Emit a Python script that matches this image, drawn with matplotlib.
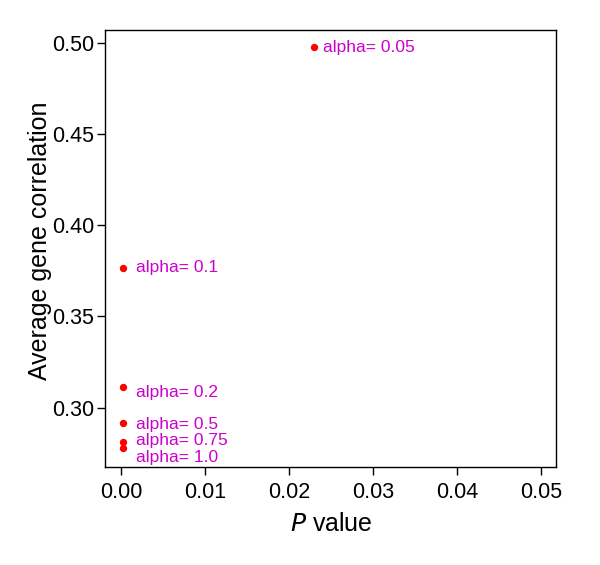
import matplotlib.pyplot as plt

p_values = [0.023, 0.0003, 0.0003, 0.0003, 0.0003, 0.0003]
avg_corr = [0.4975, 0.3765, 0.3110, 0.2913, 0.2810, 0.2780]
labels = ["alpha= 0.05", "alpha= 0.1", "alpha= 0.2",
          "alpha= 0.5", "alpha= 0.75", "alpha= 1.0"]

plt.rcParams['font.family'] = ['Liberation Sans', 'DejaVu Sans']

fig = plt.figure(figsize=(6, 5.65), dpi=100)
ax = fig.add_axes([0.175, 0.1735, 0.752, 0.7735])

ax.scatter(p_values, avg_corr, s=28, color="red", zorder=3, linewidths=0)

# label nudges (points) so the stacked labels don't collide
dx = [6.5, 9, 9, 9, 9, 9]
dy = [0, 0, -3.6, -0.7, 1.4, -7.2]
for x, y, lab, ox, oy in zip(p_values, avg_corr, labels, dx, dy):
    ax.annotate(lab, (x, y), xytext=(ox, oy), textcoords="offset points",
                color="#cc00cc", fontsize=12.5, va="center", ha="left")

ax.set_xlim(-0.0019, 0.0518)
ax.set_ylim(0.2674, 0.507)
ax.set_xticks([0.00, 0.01, 0.02, 0.03, 0.04, 0.05])
ax.set_xticklabels(["0.00", "0.01", "0.02", "0.03", "0.04", "0.05"])
ax.set_yticks([0.30, 0.35, 0.40, 0.45, 0.50])
ax.set_yticklabels(["0.30", "0.35", "0.40", "0.45", "0.50"])
ax.tick_params(labelsize=15.5, length=6, width=1, direction="out")
ax.tick_params(axis="x", pad=5)
ax.tick_params(axis="y", pad=2)
for s in ax.spines.values():
    s.set_linewidth(1)

ax.set_xlabel("$\\it{P}$ value", fontsize=18)
ax.set_ylabel("Average gene correlation", fontsize=18)
ax.xaxis.set_label_coords(0.501, -0.130)
ax.yaxis.set_label_coords(-0.145, 0.517)
ax.xaxis.label.set_va("center")
ax.yaxis.label.set_va("center")

fig.savefig("out.png", dpi=100)
